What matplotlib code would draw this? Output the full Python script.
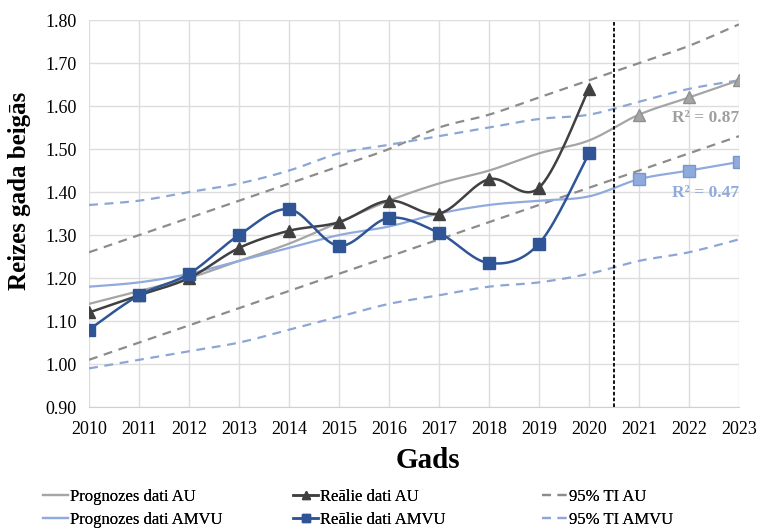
import numpy as np
import matplotlib
matplotlib.use("Agg")
import matplotlib.pyplot as plt

plt.rcParams['font.family'] = ['Liberation Serif', 'DejaVu Serif']

# Data
years = list(range(2010, 2024))
real_years = list(range(2010, 2021))

real_au = [1.12, 1.16, 1.20, 1.27, 1.31, 1.33, 1.38, 1.35, 1.43, 1.41, 1.64]
real_amvu = [1.08, 1.16, 1.21, 1.30, 1.36, 1.275, 1.34, 1.305, 1.235, 1.28, 1.49]

prog_au = [1.14, 1.17, 1.20, 1.24, 1.28, 1.33, 1.38, 1.42, 1.45, 1.49, 1.52, 1.58, 1.62, 1.66]
prog_amvu = [1.18, 1.19, 1.21, 1.24, 1.27, 1.30, 1.32, 1.35, 1.37, 1.38, 1.39, 1.43, 1.45, 1.47]

ti_au_upper = [1.26, 1.30, 1.34, 1.38, 1.42, 1.46, 1.50, 1.55, 1.58, 1.62, 1.66, 1.70, 1.74, 1.79]
ti_au_lower = [1.01, 1.05, 1.09, 1.13, 1.17, 1.21, 1.25, 1.29, 1.33, 1.37, 1.41, 1.45, 1.49, 1.53]
ti_amvu_upper = [1.37, 1.38, 1.40, 1.42, 1.45, 1.49, 1.51, 1.53, 1.55, 1.57, 1.58, 1.61, 1.64, 1.66]
ti_amvu_lower = [0.99, 1.01, 1.03, 1.05, 1.08, 1.11, 1.14, 1.16, 1.18, 1.19, 1.21, 1.24, 1.26, 1.29]

r2_au = 0.87
r2_amvu = 0.47
split_year = 2020.5

C_REAL_AU = '#404040'
C_REAL_AMVU = '#2F5597'
C_PROG_AU = '#A5A5A5'
C_PROG_AMVU = '#8FAADC'
C_TI_AU = '#8C8C8C'
C_TI_AMVU = '#8EA6D6'
DASH = (0, (4, 3))


def smooth(x, y, n=20, t=0.5):
    # Catmull-Rom style curve, similar to Excel "smoothed line"
    x = np.asarray(x, float)
    y = np.asarray(y, float)
    px = np.concatenate([[x[0]], x, [x[-1]]])
    py = np.concatenate([[y[0]], y, [y[-1]]])
    xs, ys = [], []
    for i in range(1, len(px) - 2):
        p0, p1, p2, p3 = (np.array([px[j], py[j]]) for j in (i - 1, i, i + 1, i + 2))
        c1 = p1 + (p2 - p0) * t / 3
        c2 = p2 - (p3 - p1) * t / 3
        s = np.linspace(0, 1, n)[:, None]
        pts = (1 - s) ** 3 * p1 + 3 * (1 - s) ** 2 * s * c1 + 3 * (1 - s) * s ** 2 * c2 + s ** 3 * p2
        xs.extend(pts[:, 0])
        ys.extend(pts[:, 1])
    return np.array(xs), np.array(ys)


fig = plt.figure(figsize=(7.59, 5.28), dpi=100)
ax = fig.add_axes([0.1173, 0.229, 0.8563, 0.733])

# confidence intervals
ax.plot(*smooth(years, ti_au_upper), color=C_TI_AU, lw=1.6, ls=DASH)
ax.plot(*smooth(years, ti_au_lower), color=C_TI_AU, lw=1.6, ls=DASH)
ax.plot(*smooth(years, ti_amvu_upper), color=C_TI_AMVU, lw=1.6, ls=DASH)
ax.plot(*smooth(years, ti_amvu_lower), color=C_TI_AMVU, lw=1.6, ls=DASH)

# forecasts
ax.plot(*smooth(years, prog_au), color=C_PROG_AU, lw=1.6)
ax.plot(*smooth(years, prog_amvu), color=C_PROG_AMVU, lw=1.6)
ax.plot(years[11:], prog_au[11:], ls='none', marker='^', ms=9, color=C_PROG_AU,
        markeredgecolor='#909090')
ax.plot(years[11:], prog_amvu[11:], ls='none', marker='s', ms=8.5, color=C_PROG_AMVU,
        markeredgecolor='#7A96CC')

# real data
ax.plot(*smooth(real_years, real_au), color=C_REAL_AU, lw=1.8)
ax.plot(real_years, real_au, ls='none', marker='^', ms=9, color=C_REAL_AU)
ax.plot(*smooth(real_years, real_amvu), color=C_REAL_AMVU, lw=1.8)
ax.plot(real_years, real_amvu, ls='none', marker='s', ms=8.5, color=C_REAL_AMVU)

ax.axvline(split_year, color='black', lw=1.3, ls=(0, (2, 1.2)), zorder=5)

ax.text(2023.0, 1.572, f'R² = {r2_au:.2f}', color='#A0A0A0', fontsize=12.5,
        fontweight='bold', ha='right', va='center')
ax.text(2023.0, 1.398, f'R² = {r2_amvu:.2f}', color=C_PROG_AMVU, fontsize=12.5,
        fontweight='bold', ha='right', va='center')

ax.set_xlim(2010, 2023)
ax.set_ylim(0.9, 1.8)
ax.set_xticks(years)
yt = np.arange(0.9, 1.81, 0.1)
ax.set_yticks(yt)
ax.set_yticklabels([f'{v:.2f}' for v in yt])
ax.tick_params(length=0, labelsize=13)
ax.tick_params(axis='x', pad=10)
ax.tick_params(axis='y', pad=9)
ax.grid(True, color='#DDDDDD', lw=1)
ax.set_axisbelow(True)
for sp in ax.spines.values():
    sp.set_visible(False)
ax.spines['bottom'].set_visible(True)
ax.spines['bottom'].set_color('#D0D0D0')

fig.text(20 / 759, 1 - 191 / 528, 'Reizes gada beigās', rotation=90, fontsize=18,
         fontweight='bold', ha='center', va='center')
fig.text(428 / 759, 1 - 460 / 528, 'Gads', fontsize=21, fontweight='bold',
         ha='center', va='center')

# legend: three columns placed separately
leg_cols = [
    (43, [plt.Line2D([], [], color=C_PROG_AU, lw=1.6),
          plt.Line2D([], [], color=C_PROG_AMVU, lw=1.6)],
     ['Prognozes dati AU', 'Prognozes dati AMVU']),
    (293, [plt.Line2D([], [], color=C_REAL_AU, lw=1.8, marker='^', ms=6),
           plt.Line2D([], [], color=C_REAL_AMVU, lw=1.8, marker='s', ms=6)],
     ['Reālie dati AU', 'Reālie dati AMVU']),
    (542, [plt.Line2D([], [], color=C_TI_AU, lw=1.6, ls=DASH),
           plt.Line2D([], [], color=C_TI_AMVU, lw=1.6, ls=DASH)],
     ['95% TI AU', '95% TI AMVU']),
]
for x0, hs, ls in leg_cols:
    leg = fig.legend(hs, ls, loc='center left', bbox_to_anchor=(x0 / 759, 1 - 508.5 / 528),
                     frameon=False, fontsize=12, handlelength=1.5, handletextpad=0.1,
                     labelspacing=0.45, borderpad=0, borderaxespad=0)
    fig.add_artist(leg)

fig.savefig('out.png', dpi=100)
